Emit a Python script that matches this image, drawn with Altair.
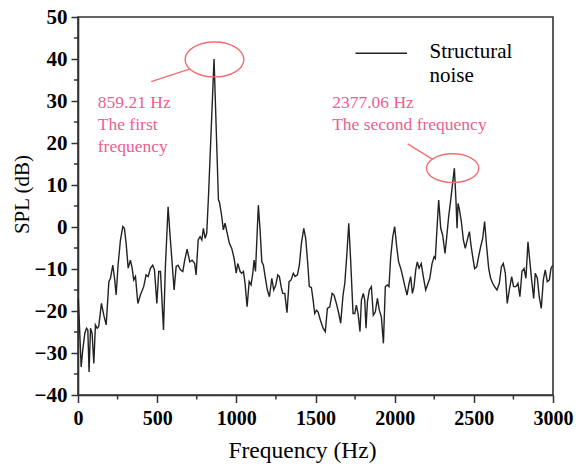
import altair as alt
import pandas as pd

# ---- spectrum data ----
freq = [2, 20, 30, 43, 54, 62, 70, 79, 89, 100, 110, 121, 131, 148, 163, 178, 195, 205, 220, 232,
        241, 253, 268, 283, 293, 304, 317, 331, 342, 352, 363, 378, 394, 415, 430, 443, 458, 472, 483, 498,
        510, 521, 540, 552, 569, 582, 594, 607, 620, 632, 647, 662, 674, 689, 706, 721, 737, 746, 759, 771,
        782, 792, 803, 813, 824, 859.21, 887, 893, 908, 918, 929, 940, 956, 971, 986, 999, 1009, 1024, 1034, 1045,
        1055, 1068, 1081, 1093, 1104, 1112, 1121, 1139, 1150, 1161, 1171, 1182, 1196, 1209, 1224, 1236, 1249, 1262, 1272, 1283,
        1293, 1306, 1320, 1333, 1346, 1360, 1371, 1386, 1398, 1411, 1426, 1438, 1451, 1461, 1474, 1485, 1495, 1506, 1516, 1531,
        1548, 1562, 1575, 1590, 1605, 1617, 1632, 1647, 1659, 1674, 1685, 1697, 1710, 1722, 1737, 1748, 1758, 1769, 1781, 1790,
        1802, 1811, 1819, 1828, 1840, 1853, 1865, 1878, 1891, 1903, 1916, 1929, 1941, 1954, 1964, 1975, 1988, 2000, 2013, 2025,
        2038, 2051, 2065, 2078, 2091, 2101, 2112, 2122, 2133, 2143, 2154, 2168, 2181, 2196, 2211, 2222, 2236, 2249, 2257, 2265,
        2278, 2291, 2303, 2318, 2329, 2341, 2354, 2366, 2377.06, 2387, 2394, 2400, 2408, 2421, 2434, 2446, 2461, 2472, 2482, 2493,
        2505, 2518, 2530, 2543, 2556, 2568, 2581, 2594, 2606, 2619, 2631, 2646, 2661, 2674, 2686, 2699, 2711, 2724, 2739, 2751,
        2766, 2779, 2791, 2804, 2817, 2829, 2842, 2852, 2865, 2878, 2888, 2901, 2913, 2926, 2939, 2951, 2964, 2977, 2987, 2998]
spl = [-17.0, -33.3, -29.3, -25.3, -24.1, -24.5, -34.5, -24.1, -25.3, -32.5, -23.3, -24.1, -23.7, -18.2, -21.0, -23.3, -13.0, -12.2, -9.1, -12.6,
       -16.2, -9.1, -3.1, 0.1, -0.3, -3.9, -9.8, -7.9, -9.8, -12.6, -11.8, -18.2, -16.2, -14.2, -11.4, -11.8, -9.8, -9.1, -10.2, -18.2,
       -10.6, -10.6, -24.5, -9.4, 4.8, -2.3, -8.3, -15.0, -9.4, -9.1, -10.2, -10.6, -7.9, -5.3, -8.3, -7.9, -8.7, -11.4, -3.1, -2.3,
       -3.1, -0.3, -2.7, -1.5, 7.2, 40.0, 6.4, 6.0, 2.5, -0.7, 0.9, -1.1, -3.9, -5.1, -7.5, -11.0, -8.7, -10.6, -11.0, -10.6,
       -13.4, -19.0, -13.0, -13.8, -11.0, -7.9, -10.6, 5.2, -0.7, -8.3, -9.1, -11.8, -15.0, -16.6, -12.2, -15.0, -13.8, -11.4, -11.8, -14.2,
       -15.8, -15.8, -20.4, -13.0, -12.6, -11.0, -11.8, -11.4, -9.1, -3.9, -0.3, -2.7, -8.7, -14.2, -14.4, -17.4, -20.6, -19.8, -20.2, -22.2,
       -24.1, -24.9, -19.4, -19.0, -15.8, -16.2, -18.2, -20.6, -22.9, -16.2, -13.4, -7.1, 0.9, -7.9, -20.6, -20.6, -18.6, -20.6, -24.9, -17.4,
       -15.8, -17.4, -24.1, -17.8, -15.0, -14.2, -21.0, -20.2, -17.0, -19.8, -21.4, -27.7, -14.2, -13.8, -14.2, -7.1, -2.3, 0.1, -4.7, -8.3,
       -9.8, -11.8, -14.2, -16.2, -13.4, -11.8, -15.8, -14.2, -10.2, -8.3, -9.8, -8.7, -11.8, -15.0, -13.4, -12.2, -8.7, -7.1, -7.5, -1.9,
       6.4, -0.3, -1.9, -6.3, -2.3, 2.5, 6.4, 10.4, 14.0, 6.4, -0.3, 5.6, 4.4, 1.3, -3.1, -5.1, -2.7, -1.1, -4.3, -7.1,
       -9.9, -9.5, -7.1, -4.7, -2.7, 1.3, -4.7, -9.9, -12.2, -13.4, -14.2, -15.0, -13.4, -9.5, -8.7, -11.0, -18.2, -15.0, -11.8, -14.2,
       -14.2, -13.4, -16.6, -10.6, -9.9, -12.2, -3.5, -7.5, -12.6, -17.0, -11.0, -12.2, -16.6, -19.4, -12.6, -10.2, -13.0, -12.6, -9.9, -9.1]

# ---- axes ticks ----
x_major = [0, 500, 1000, 1500, 2000, 2500, 3000]
x_minor = [250, 750, 1250, 1750, 2250, 2750]
y_major = [-40, -30, -20, -10, 0, 10, 20, 30, 40, 50]
y_minor = [-35, -25, -15, -5, 5, 15, 25, 35, 45]

# ---- annotations ----
ell_f = [862]
ell_v = [39.9]
ell2_f = [2366]
ell2_v = [14.0]
ptr_f1 = [704, 2082]
ptr_v1 = [37.6, 19.8]
ptr_f2 = [462, 2240]
ptr_v2 = [34.6, 16.1]
ann_f = [125, 1605]
ann_v = [28.3, 28.3]
ann_text = ["859.21 Hz\nThe first\nfrequency", "2377.06 Hz\nThe second frequency"]
legend_label = ["Structural\nnoise"]

PINK = "#ef5d90"
RED = "#ef6f72"
SERIF = "Liberation Serif, Times New Roman, serif"

xs = alt.Scale(domain=[0, 3000], nice=False, zero=False)
ys = alt.Scale(domain=[-40, 50], nice=False, zero=False)

xaxis = alt.Axis(
    values=x_major, format="d", title="Frequency (Hz)", grid=False,
    labelFont=SERIF, labelFontWeight="bold", labelFontSize=20, labelColor="black",
    labelPadding=6, labelFlush=False, labelOverlap=False,
    tickSize=7.5, tickWidth=1.5, tickColor="#333333",
    domainColor="#333333", domainWidth=1.6,
    titleFont=SERIF, titleFontWeight="normal", titleFontSize=23.5, titleColor="black",
    titleX=224, titleY=62, titleAlign="center", titleBaseline="alphabetic")
yaxis = alt.Axis(
    values=y_major, format="d", title="SPL (dB)", grid=False,
    labelFont=SERIF, labelFontWeight="bold", labelFontSize=21, labelColor="black",
    labelPadding=4, labelFlush=False, labelOverlap=False,
    tickSize=7, tickWidth=1.5, tickColor="#333333",
    domainColor="#333333", domainWidth=1.6,
    titleFont=SERIF, titleFontWeight="normal", titleFontSize=21, titleColor="black",
    titleAngle=270, titleX=-50, titleY=177, titleAlign="center", titleBaseline="alphabetic")


def X(field):
    return alt.X(field, scale=xs, axis=xaxis)


def Y(field):
    return alt.Y(field, scale=ys, axis=yaxis)


df = pd.DataFrame({"f": freq, "spl": spl})

line = alt.Chart(df).mark_line(color="#222222", strokeWidth=1.4).encode(
    x=X("f:Q"), y=Y("spl:Q"))

xminor = alt.Chart(pd.DataFrame({"f": x_minor})).mark_rule(color="#333333", strokeWidth=1.5).encode(
    x=X("f:Q"), y=alt.value(378), y2=alt.value(382.5))
yminor = alt.Chart(pd.DataFrame({"spl": y_minor})).mark_rule(color="#333333", strokeWidth=1.5).encode(
    y=Y("spl:Q"), x=alt.value(-4), x2=alt.value(0))

ellipse1 = alt.Chart(pd.DataFrame({"f": ell_f, "spl": ell_v})).mark_point(
    shape="M -1 0 A 1 0.596 0 1 0 1 0 A 1 0.596 0 1 0 -1 0 Z",
    filled=False, color=RED, strokeWidth=1.4, size=3446, opacity=1,
).encode(x=X("f:Q"), y=Y("spl:Q"))

ellipse2 = alt.Chart(pd.DataFrame({"f": ell2_f, "spl": ell2_v})).mark_point(
    shape="M -1 0 A 1 0.55 0 1 0 1 0 A 1 0.55 0 1 0 -1 0 Z",
    filled=False, color=RED, strokeWidth=1.4, size=2735, opacity=1,
).encode(x=X("f:Q"), y=Y("spl:Q"))

pointers = alt.Chart(pd.DataFrame({"f": ptr_f1, "spl": ptr_v1, "f2": ptr_f2, "v2": ptr_v2})).mark_rule(
    color=RED, strokeWidth=1.3
).encode(x=X("f:Q"), y=Y("spl:Q"), x2="f2:Q", y2="v2:Q")

ann = alt.Chart(pd.DataFrame({"f": ann_f, "spl": ann_v, "t": ann_text})).mark_text(
    align="left", baseline="alphabetic", lineBreak="\n", lineHeight=22,
    font=SERIF, fontSize=17.5, color=PINK,
).encode(x=X("f:Q"), y=Y("spl:Q"), text="t:N")

leg_line = alt.Chart(pd.DataFrame({"t": legend_label})).mark_rule(color="#222222", strokeWidth=1.4).encode(
    x=alt.value(277.5), x2=alt.value(329), y=alt.value(36.3),
)
leg_text = alt.Chart(pd.DataFrame({"t": legend_label})).mark_text(
    align="left", baseline="alphabetic", lineBreak="\n", lineHeight=24,
    font=SERIF, fontSize=21, color="black",
).encode(x=alt.value(351.5), y=alt.value(41.3), text="t:N")

chart = alt.layer(
    line, xminor, yminor, ellipse1, ellipse2, pointers, ann, leg_line, leg_text
).properties(
    width=475, height=378,
    autosize=alt.AutoSizeParams(type="none"),
    padding={"left": 78, "top": 17, "right": 23, "bottom": 71},
    background="white",
).configure_view(stroke="#333333", strokeWidth=1.6)

chart.save("out.html", embed_options={"renderer": "svg", "actions": False})
